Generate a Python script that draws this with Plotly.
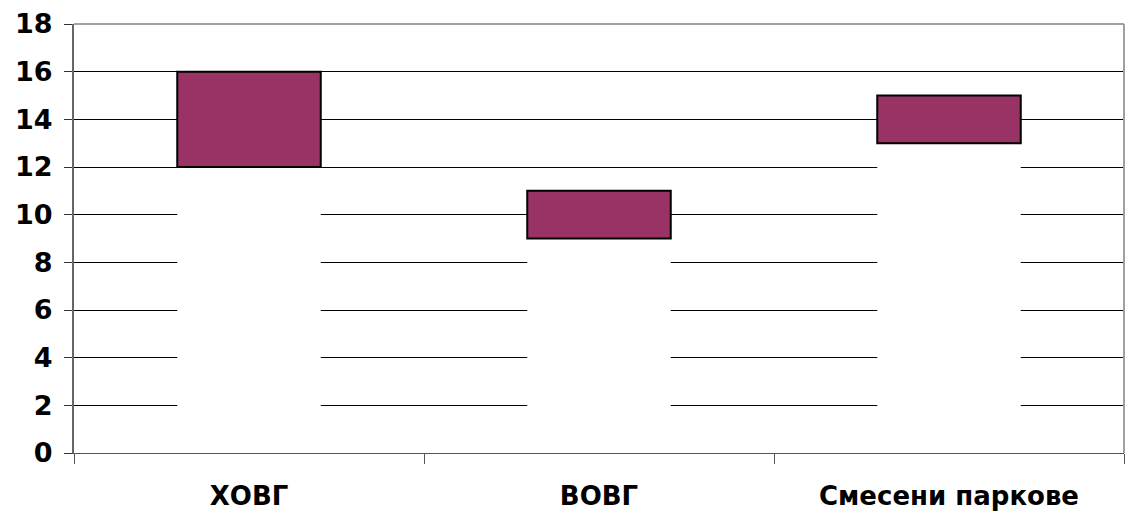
import plotly.graph_objects as go

# Floating range bars: each category spans from a lower to an upper value
categories = ["ХОВГ", "ВОВГ", "Смесени паркове"]
low_values = [12, 9, 13]
high_values = [16, 11, 15]
y_ticks = [0, 2, 4, 6, 8, 10, 12, 14, 16, 18]

span = [h - l for h, l in zip(high_values, low_values)]

fig = go.Figure()
# invisible white base that hides the gridlines below each range
fig.add_trace(go.Bar(
    x=categories, y=low_values, width=0.41,
    marker=dict(color="white", line=dict(width=0)),
    hoverinfo="skip", showlegend=False,
))
fig.add_trace(go.Bar(
    x=categories, y=span, base=low_values, width=0.41,
    marker=dict(color="#993366", line=dict(color="black", width=2)),
    showlegend=False,
))

fig.update_layout(
    barmode="overlay",
    width=1125, height=515,
    margin=dict(l=74, r=1, t=24, b=62),
    paper_bgcolor="white", plot_bgcolor="white",
    font=dict(family="DejaVu Sans", color="black"),
    xaxis=dict(
        type="category", tickson="boundaries",
        ticks="outside", ticklen=10, tickcolor="#555555", tickwidth=1,
        showgrid=False, showline=True, linecolor="#555555", linewidth=1,
        tickfont=dict(family="DejaVu Sans", size=26, color="black", weight="bold"),
        ticklabelstandoff=20,
    ),
    yaxis=dict(
        range=[0, 18], tickvals=y_ticks,
        ticks="outside", ticklen=8, tickcolor="#333333",
        showgrid=True, gridcolor="black", gridwidth=1,
        zeroline=False,
        showline=True, linecolor="#666666", linewidth=2,
        tickfont=dict(family="DejaVu Sans", size=27, color="black", weight="bold"),
        ticklabelstandoff=6,
    ),
    shapes=[
        dict(type="line", xref="paper", yref="paper", x0=0, x1=1, y0=1, y1=1,
             line=dict(color="#a0a0a0", width=2)),
        dict(type="line", xref="paper", yref="paper", x0=1, x1=1, y0=0, y1=1,
             line=dict(color="#a0a0a0", width=2)),
    ],
)

fig.write_html("out.html")
